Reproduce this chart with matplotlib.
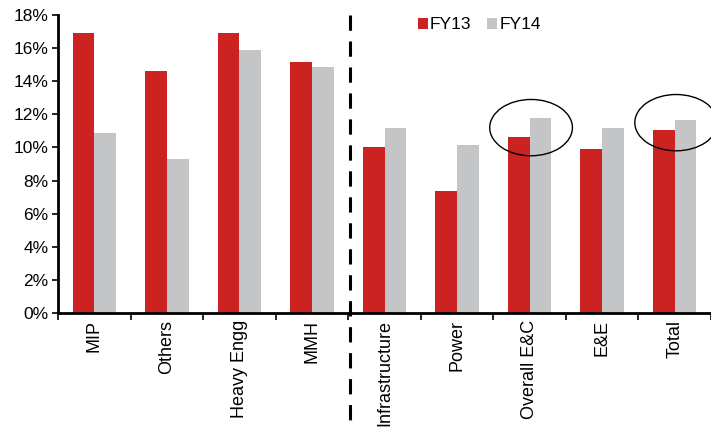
import numpy as np
import matplotlib.pyplot as plt
from matplotlib.patches import Ellipse
from matplotlib.ticker import FuncFormatter, MultipleLocator
import matplotlib.transforms as mtransforms

plt.rcParams['font.family'] = ['Liberation Sans', 'DejaVu Sans']

categories = ['MIP', 'Others', 'Heavy Engg', 'MMH', 'Infrastructure',
              'Power', 'Overall E&C', 'E&E', 'Total']
fy13 = [16.9, 14.6, 16.9, 15.15, 10.0, 7.35, 10.65, 9.9, 11.05]
fy14 = [10.85, 9.3, 15.9, 14.85, 11.15, 10.15, 11.8, 11.15, 11.65]
highlight = ['Overall E&C', 'Total']

red = '#CC2222'
grey = '#C4C5C7'

fig = plt.figure(figsize=(7.11, 4.30), dpi=100)
ax = fig.add_axes([0.0816, 0.272, 0.9184, 0.693])

x = np.arange(len(categories))
w = 0.3
ax.bar(x - w/2, fy13, w, color=red, label='FY13')
ax.bar(x + w/2, fy14, w, color=grey, label='FY14')

ax.set_xlim(-0.5, len(categories) - 0.5)
ax.set_ylim(0, 18)
ax.yaxis.set_major_locator(MultipleLocator(2))
ax.yaxis.set_major_formatter(FuncFormatter(lambda v, p: '%d%%' % v))

ax.set_xticks(x)
ax.set_xticklabels(categories, rotation=90, fontsize=13)
ax.set_xticks(np.arange(-0.5, len(categories)), minor=True)
ax.tick_params(axis='x', which='major', length=0, pad=5)
ax.tick_params(axis='x', which='minor', length=5, width=1.2, direction='out')
ax.tick_params(axis='y', labelsize=12.5, length=4, width=1.2, direction='out', pad=3)

for s in ['top', 'right']:
    ax.spines[s].set_visible(False)
for s in ['left', 'bottom']:
    ax.spines[s].set_linewidth(2)

# divider between segment groups, running down through the labels
trans = mtransforms.blended_transform_factory(ax.transData, ax.transAxes)
ax.plot([3.53, 3.53], [1.0, -0.47], transform=trans, color='black',
        lw=2.2, ls=(0, (5, 3.5)), clip_on=False)

# circles round the highlighted bars
for name, cy in zip(highlight, [11.2, 11.5]):
    i = categories.index(name)
    ax.add_patch(Ellipse((i + 0.02, cy), 1.14, 3.4, fill=False,
                         edgecolor='black', lw=1.0, clip_on=False))

ax.legend(loc='upper left', bbox_to_anchor=(0.527, 1.045), ncol=2, frameon=False,
          fontsize=12.5, handlelength=0.6, handleheight=0.6, handletextpad=0.1,
          columnspacing=0.9)

fig.savefig('out.png', dpi=100)
